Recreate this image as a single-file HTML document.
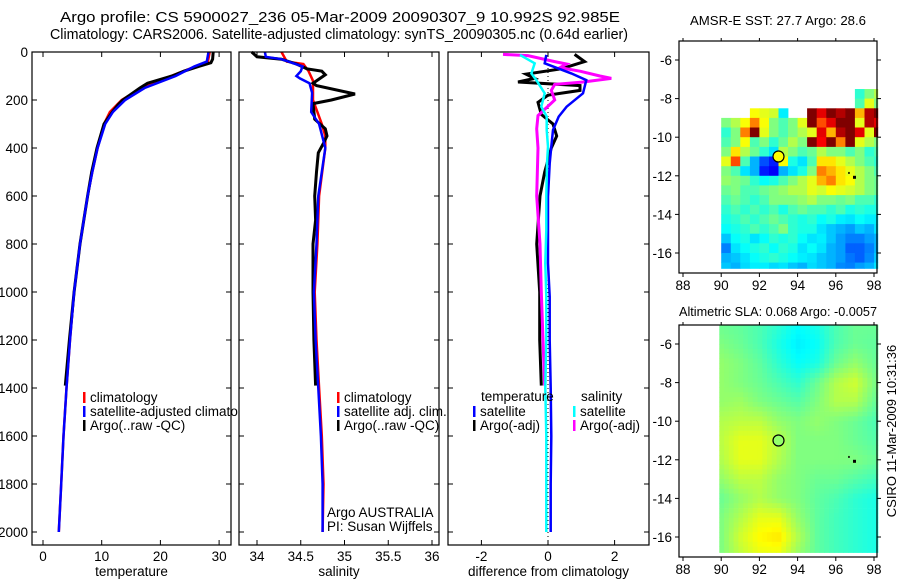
<!DOCTYPE html>
<html><head><meta charset="utf-8">
<style>
html,body{margin:0;padding:0;background:#fff;width:900px;height:580px;overflow:hidden}
svg text{font-family:"Liberation Sans",sans-serif;fill:#000}
</style></head>
<body>
<svg id="fig" width="900" height="580" viewBox="0 0 900 580" xmlns="http://www.w3.org/2000/svg">
<rect x="0" y="0" width="900" height="580" fill="#fff"/>
<text x="60" y="22" font-size="14.5" textLength="560" lengthAdjust="spacingAndGlyphs">Argo profile: CS 5900027_236 05-Mar-2009 20090307_9 10.992S 92.985E</text>
<text x="50" y="39" font-size="14.5" textLength="578" lengthAdjust="spacingAndGlyphs">Climatology: CARS2006. Satellite-adjusted climatology: synTS_20090305.nc (0.64d earlier)</text>
<text x="690" y="25" font-size="13" textLength="176" lengthAdjust="spacingAndGlyphs">AMSR-E SST: 27.7 Argo: 28.6</text>
<text x="679" y="316" font-size="13" textLength="198" lengthAdjust="spacingAndGlyphs">Altimetric SLA: 0.068 Argo: -0.0057</text>
<text x="0" y="0" font-size="13" text-anchor="middle" transform="translate(896,431) rotate(-90)">CSIRO 11-Mar-2009 10:31:36</text>
<g id="layer"></g>
</svg>
<script>
// ---------- profile data ----------
const tempDepth = [0,40,60,100,150,200,250,300,400,500,600,800,1000,1200,1400,1600,1800,2000];
const tempClim  = [28.4,28.1,26.0,21.8,16.8,13.4,11.4,10.4,9.3,8.4,7.6,6.3,5.3,4.6,4.0,3.5,3.1,2.7];
const tempSat   = [28.2,27.9,25.8,22.6,17.3,14.0,11.9,10.6,9.3,8.4,7.6,6.3,5.3,4.6,4.0,3.5,3.1,2.7];
const argoTDepth = [0,30,45,60,80,100,130,150,200,220,250,300,400,500,600,800,1000,1200,1390];
const argoTemp   = [29.0,28.9,28.6,26.5,24.0,22.0,17.8,16.5,13.6,12.8,11.8,10.4,9.2,8.3,7.6,6.3,5.3,4.5,3.8];

const salDepth = [0,40,50,80,120,200,300,350,400,600,800,1000,1200,1400,1600,1800,2000];
const salClim  = [34.28,34.34,34.53,34.59,34.64,34.64,34.74,34.78,34.78,34.71,34.69,34.66,34.68,34.71,34.74,34.76,34.75];
const salSatDepth = [0,20,30,60,80,100,110,130,170,250,300,400,600,800,1000,1200,1400,1600,1800,2000];
const salSat      = [34.09,34.10,34.28,34.52,34.50,34.45,34.49,34.60,34.63,34.62,34.71,34.78,34.70,34.68,34.65,34.67,34.70,34.73,34.75,34.75];
const argoSDepth = [0,20,30,50,70,80,95,130,140,175,200,215,280,320,350,380,420,500,600,700,800,1000,1200,1390];
const argoSal    = [33.94,34.0,34.28,34.45,34.57,34.74,34.78,34.64,34.68,35.12,34.85,34.64,34.66,34.78,34.80,34.76,34.70,34.68,34.66,34.67,34.64,34.64,34.65,34.67];

const diffDepth = [12,47,89,117,172,228,269,325,394,464,603,742,881,1019,1200,1400,1600,1800,2000];
const diffTempSat = [-0.05,-0.1,0.7,1.15,1.05,0.56,0.32,0.15,0.1,0.05,0.0,0.0,0.0,0.05,0.05,0.08,0.1,0.08,0.08];
const diffSalSat  = [-0.84,-0.4,-0.5,-0.35,-0.1,-0.2,-0.04,-0.04,0.0,-0.03,-0.05,-0.05,-0.08,-0.05,-0.05,-0.08,-0.05,-0.05,-0.05];
const diffArgoSDepth = [10,15,40,50,65,80,100,110,125,135,160,200,265,320,400,600,800,1000,1200,1390];
const diffArgoSal    = [-1.35,-0.6,0.2,0.56,0.36,0.96,1.56,1.9,1.06,0.2,0.1,0.2,-0.3,-0.34,-0.3,-0.34,-0.24,-0.2,-0.15,-0.1];
const diffArgoTDepth = [10,40,70,92,110,125,140,160,180,210,260,300,350,400,500,600,800,1000,1200,1390];
const diffArgoTemp   = [0.8,1.1,0.4,-0.66,-0.4,-0.9,0.96,0.96,0.0,-0.3,-0.2,0.15,0.26,0.1,-0.1,-0.24,-0.34,-0.25,-0.25,-0.2];

// ---------- map data (jet colormap fraction, -1 = no data) ----------
const sstLon0 = 90, sstLat0 = -7.5, sstCell = 0.5;
const sstGrid = [
[-1,-1,-1,-1,-1,-1,-1,-1,-1,-1,-1,-1,-1,-1,0.42,0.5,0.55],
[-1,-1,-1,-1,-1,-1,-1,-1,-1,-1,-1,-1,-1,-1,0.45,0.6,0.5],
[-1,-1,-1,0.62,0.6,0.58,0.36,-1,-1,1.0,0.9,1.0,0.95,1.0,0.7,0.95,1.0],
[0.5,0.55,0.62,0.75,0.62,0.5,0.45,0.5,0.6,1.0,0.8,0.9,1.0,1.0,0.6,0.95,0.9],
[0.42,0.5,0.75,1.0,0.6,0.5,0.45,0.5,0.55,0.6,0.9,0.7,0.95,1.0,0.9,0.6,1.0],
[0.45,0.5,0.62,0.45,0.5,0.42,0.48,0.55,0.5,1.0,0.88,1.0,0.75,1.0,0.6,0.55,0.5],
[0.5,0.65,0.55,0.48,0.42,0.35,0.55,0.5,0.45,0.48,0.55,0.5,0.5,0.45,0.5,0.42,0.45],
[0.6,0.8,0.45,0.3,0.2,0.15,0.62,0.4,0.35,0.45,0.65,0.65,0.6,0.55,0.5,0.45,0.42],
[0.5,0.45,0.35,0.3,0.15,0.12,0.3,0.35,0.4,0.5,0.75,0.7,0.65,0.6,0.55,0.5,0.45],
[0.52,0.5,0.48,0.42,0.38,0.4,0.45,0.5,0.55,0.6,0.7,0.75,0.65,0.62,0.55,0.5,0.48],
[0.48,0.5,0.45,0.45,0.48,0.5,0.52,0.55,0.55,0.6,0.58,0.62,0.6,0.58,0.55,0.5,0.48],
[0.45,0.48,0.45,0.42,0.45,0.5,0.5,0.5,0.52,0.55,0.5,0.5,0.48,0.5,0.45,0.45,0.42],
[0.42,0.45,0.42,0.45,0.42,0.45,0.4,0.45,0.48,0.45,0.45,0.42,0.45,0.4,0.42,0.4,0.4],
[0.4,0.42,0.45,0.42,0.45,0.48,0.45,0.42,0.4,0.42,0.38,0.4,0.36,0.35,0.38,0.36,0.36],
[0.38,0.4,0.42,0.45,0.42,0.45,0.5,0.42,0.4,0.4,0.35,0.32,0.3,0.28,0.32,0.3,0.35],
[0.32,0.38,0.4,0.35,0.38,0.42,0.4,0.42,0.38,0.35,0.36,0.32,0.28,0.25,0.25,0.28,0.3],
[0.25,0.35,0.38,0.4,0.42,0.38,0.42,0.4,0.35,0.38,0.35,0.3,0.28,0.22,0.22,0.25,0.3],
[0.3,0.32,0.35,0.38,0.4,0.42,0.4,0.38,0.36,0.35,0.32,0.3,0.28,0.24,0.22,0.26,0.32],
[0.32,0.3,0.34,0.36,0.36,0.34,0.35,0.32,0.3,0.34,0.32,0.3,0.26,0.25,0.28,0.3,0.35]];
const slaLon0 = 90, slaLat0 = -5;
const slaGrid = [
[.48,.47,.45,.42,.38,.4,.45,.48,.48],
[.5,.48,.45,.4,.36,.38,.45,.48,.47],
[.52,.5,.47,.42,.38,.4,.48,.52,.48],
[.52,.5,.48,.45,.42,.48,.55,.58,.5],
[.52,.53,.5,.48,.46,.5,.55,.55,.48],
[.55,.56,.56,.52,.5,.52,.5,.48,.45],
[.56,.6,.6,.56,.5,.5,.5,.48,.46],
[.55,.6,.6,.55,.5,.5,.5,.5,.48],
[.52,.56,.56,.52,.5,.48,.48,.46,.44],
[.48,.52,.55,.52,.5,.47,.45,.42,.4],
[.5,.55,.6,.6,.52,.47,.44,.42,.4],
[.5,.58,.63,.65,.55,.47,.44,.42,.4],
[.5,.56,.6,.6,.52,.47,.44,.42,.4]];
const floatLon = 93.0, floatLat = -11.0;
const depthTicks = [0,200,400,600,800,1000,1200,1400,1600,1800,2000];
const tempTicks = [0,10,20,30];
const salTicks = [34,34.5,35,35.5,36];
const diffTicks = [-2,0,2];
const lonTicks = [88,90,92,94,96,98];
const latTicks = [-6,-8,-10,-12,-14,-16];

// ---------- helpers ----------
const NS='http://www.w3.org/2000/svg';
const layer=document.getElementById('layer');
const FS=13.5;
function mk(tag,attrs,parent){const e=document.createElementNS(NS,tag);for(const k in attrs)e.setAttribute(k,attrs[k]);(parent||layer).appendChild(e);return e;}
const Y0=52, PY=0.24, PB=545;
const yD=d=>Y0+d*PY;
function jet(v){
  const r=Math.max(0,Math.min(1,1.5-Math.abs(4*v-3)));
  const g=Math.max(0,Math.min(1,1.5-Math.abs(4*v-2)));
  const b=Math.max(0,Math.min(1,1.5-Math.abs(4*v-1)));
  return `rgb(${Math.round(r*255)},${Math.round(g*255)},${Math.round(b*255)})`;
}
function line(xs,ds,xf,col,name,g,w){
  const pts=xs.map((v,i)=>xf(v).toFixed(1)+','+yD(ds[i]).toFixed(1)).join(' ');
  const p=mk('polyline',{points:pts,fill:'none',stroke:col,'stroke-width':w||2.5,'stroke-linejoin':'miter'},g);
  
  
}
function panel(x0,x1,name){
  const g=mk('g',{});
  
  
  mk('rect',{x:x0,y:Y0,width:x1-x0,height:PB-Y0,fill:'#fff',stroke:'none'},g);
  return g;
}
function frame(g,x0,x1,ticks,xf,xlabel,showDepth,name){
  mk('rect',{x:x0,y:Y0,width:x1-x0,height:PB-Y0,fill:'none',stroke:'#000','stroke-width':1.2},g);
  depthTicks.forEach(d=>{
    const y=yD(d);
    mk('line',{x1:x0,x2:x0+5,y1:y,y2:y,stroke:'#000'},g);
    mk('line',{x1:x1-5,x2:x1,y1:y,y2:y,stroke:'#000'},g);
    if(showDepth){const t=mk('text',{x:x0-4,y:y+5,'font-size':FS,'text-anchor':'end'},g);t.textContent=d;
      
      }
  });
  ticks.forEach(v=>{
    const x=xf(v);
    mk('line',{x1:x,x2:x,y1:PB,y2:PB-5,stroke:'#000'},g);
    mk('line',{x1:x,x2:x,y1:Y0,y2:Y0+5,stroke:'#000'},g);
    const t=mk('text',{x:x,y:PB+16,'font-size':FS,'text-anchor':'middle'},g);t.textContent=v;
    
    
  });
  const t=mk('text',{x:(x0+x1)/2,y:PB+31,'font-size':FS,'text-anchor':'middle'},g);t.textContent=xlabel;
  
  
}
function legend(g,x,y,col,label){
  mk('rect',{x:x,y:y-10,width:2.5,height:11,fill:col},g);
  const t=mk('text',{x:x+7,y:y,'font-size':FS},g);t.textContent=label;
  
  
}

// ---------- panel 1 temperature ----------
const xT=v=>43+v*5.87;
const g1=panel(32,231,'temperature-panel');
line(tempClim,tempDepth,xT,'#f00','temp-climatology-line',g1);
line(argoTemp,argoTDepth,xT,'#000','temp-argo-line',g1,3);
line(tempSat,tempDepth,xT,'#00f','temp-satellite-line',g1);
frame(g1,32,231,tempTicks,xT,'temperature',true,'temp');
legend(g1,83,402,'#f00','climatology');
legend(g1,83,416,'#00f','satellite-adjusted climatology');
legend(g1,83,430,'#000','Argo(..raw -QC)');

// ---------- panel 2 salinity ----------
const xS=v=>257+(v-34)*87.5;
const g2=panel(239,439,'salinity-panel');
line(salClim,salDepth,xS,'#f00','sal-climatology-line',g2);
line(argoSal,argoSDepth,xS,'#000','sal-argo-line',g2,3);
line(salSat,salSatDepth,xS,'#00f','sal-satellite-line',g2);
frame(g2,239,439,salTicks,xS,'salinity',false,'sal');
legend(g2,337,402,'#f00','climatology');
legend(g2,337,416,'#00f','satellite adj. clim.');
legend(g2,337,430,'#000','Argo(..raw -QC)');
[['Argo AUSTRALIA',517],['PI: Susan Wijffels',531]].forEach(([s,y])=>{const t=mk('text',{x:327,y:y,'font-size':FS},g2);t.textContent=s;
  
  });

// ---------- panel 3 difference ----------
const xDf=v=>548+v*33.3;
const g3=panel(448,649,'difference-panel');
mk('line',{x1:548,x2:548,y1:Y0,y2:PB,stroke:'#000','stroke-dasharray':'1,3'},g3);
line(diffArgoTemp,diffArgoTDepth,xDf,'#000','diff-temp-argo-line',g3,3);
line(diffArgoSal,diffArgoSDepth,xDf,'#f0f','diff-sal-argo-line',g3,3);
line(diffTempSat,diffDepth,xDf,'#00f','diff-temp-satellite-line',g3);
line(diffSalSat,diffDepth,xDf,'#0ff','diff-sal-satellite-line',g3);
frame(g3,448,649,diffTicks,xDf,'difference from climatology',false,'diff');
const tt=mk('text',{x:481,y:401,'font-size':FS},g3);tt.textContent='temperature';
const ts=mk('text',{x:581,y:401,'font-size':FS},g3);ts.textContent='salinity';
legend(g3,473,416,'#00f','satellite');
legend(g3,473,430,'#000','Argo(-adj)');
legend(g3,573,416,'#0ff','satellite');
legend(g3,573,430,'#f0f','Argo(-adj)');

// ---------- maps ----------
function mapAxes(top,name){
  const g=mk('g',{});
  
  
  const bot=top+232;
  const xL=lon=>683+(lon-88)*19.1;
  const yL=lat=>top+19+(-6-lat)*19.3;
  return {g,top,bot,xL,yL};
}
function mapFrame(m){
  const {g,top,bot,xL,yL}=m;
  mk('rect',{x:679,y:top,width:198,height:232,fill:'none',stroke:'#000','stroke-width':1.2},g);
  lonTicks.forEach(l=>{const x=xL(l);
    mk('line',{x1:x,x2:x,y1:bot,y2:bot+4,stroke:'#000'},g);
    mk('line',{x1:x,x2:x,y1:top,y2:top-3,stroke:'#000'},g);
    const t=mk('text',{x:x,y:bot+17,'font-size':FS,'text-anchor':'middle'},g);t.textContent=l;
    
    });
  latTicks.forEach(l=>{const y=yL(l);
    mk('line',{x1:679,x2:675,y1:y,y2:y,stroke:'#000'},g);
    mk('line',{x1:877,x2:881,y1:y,y2:y,stroke:'#000'},g);
    const t=mk('text',{x:672,y:y+5,'font-size':FS,'text-anchor':'end'},g);t.textContent=l;
    
    });
}
function marker(m,fill){
  const c=mk('circle',{cx:m.xL(floatLon),cy:m.yL(floatLat),r:5.5,fill:fill,stroke:'#000','stroke-width':1.2},m.g);
  
  
  mk('rect',{x:m.xL(96.9),y:m.yL(-12.0),width:3,height:3,fill:'#000'},m.g);
  mk('rect',{x:m.xL(96.65),y:m.yL(-11.8),width:1.5,height:2,fill:'#000'},m.g);
}
// SST map
const m1=mapAxes(41,'sst-map');
sstGrid.forEach((row,r)=>row.forEach((v,c)=>{
  if(v<0)return;
  const lonA=sstLon0+c*sstCell, latA=sstLat0-r*sstCell;
  const x=m1.xL(lonA), y=m1.yL(latA);
  const w=Math.min(m1.xL(lonA+sstCell),m1.xL(98.2))-x;
  const h=Math.min(m1.yL(latA-sstCell),m1.yL(-16.8))-y;
  if(w<=0||h<=0)return;
  const cell=mk('rect',{x:x.toFixed(1),y:y.toFixed(1),width:(w+0.4).toFixed(1),height:(h+0.4).toFixed(1),fill:jet(v)},m1.g);
  
  
}));
mapFrame(m1);
marker(m1,'#ff0');
// SLA map (bilinear rendering of coarse grid)
const m2=mapAxes(325,'sla-map');
const step=0.25;
for(let lat=slaLat0; lat>-16.8; lat-=step){
  for(let lon=89.9; lon<98.2; lon+=step){
    const fr=Math.min(slaGrid.length-1.001,Math.max(0,(slaLat0-(lat-step/2))));
    const fc=Math.min(slaGrid[0].length-1.001,Math.max(0,(lon+step/2-slaLon0)));
    const r0=Math.floor(fr), c0=Math.floor(fc), dr=fr-r0, dc=fc-c0;
    const v=slaGrid[r0][c0]*(1-dr)*(1-dc)+slaGrid[r0+1][c0]*dr*(1-dc)+slaGrid[r0][c0+1]*(1-dr)*dc+slaGrid[r0+1][c0+1]*dr*dc;
    const x=m2.xL(lon), y=m2.yL(lat);
    const w=Math.min(m2.xL(lon+step),m2.xL(98.2))-x, h=Math.min(m2.yL(lat-step),m2.yL(-16.8))-y;
    if(w<=0||h<=0)continue;
    const cell=mk('rect',{x:x.toFixed(1),y:y.toFixed(1),width:(w+0.4).toFixed(1),height:(h+0.4).toFixed(1),fill:jet(v)},m2.g);
    
    
  }
}
mapFrame(m2);
marker(m2,jet(0.52));
</script>
</body></html>
